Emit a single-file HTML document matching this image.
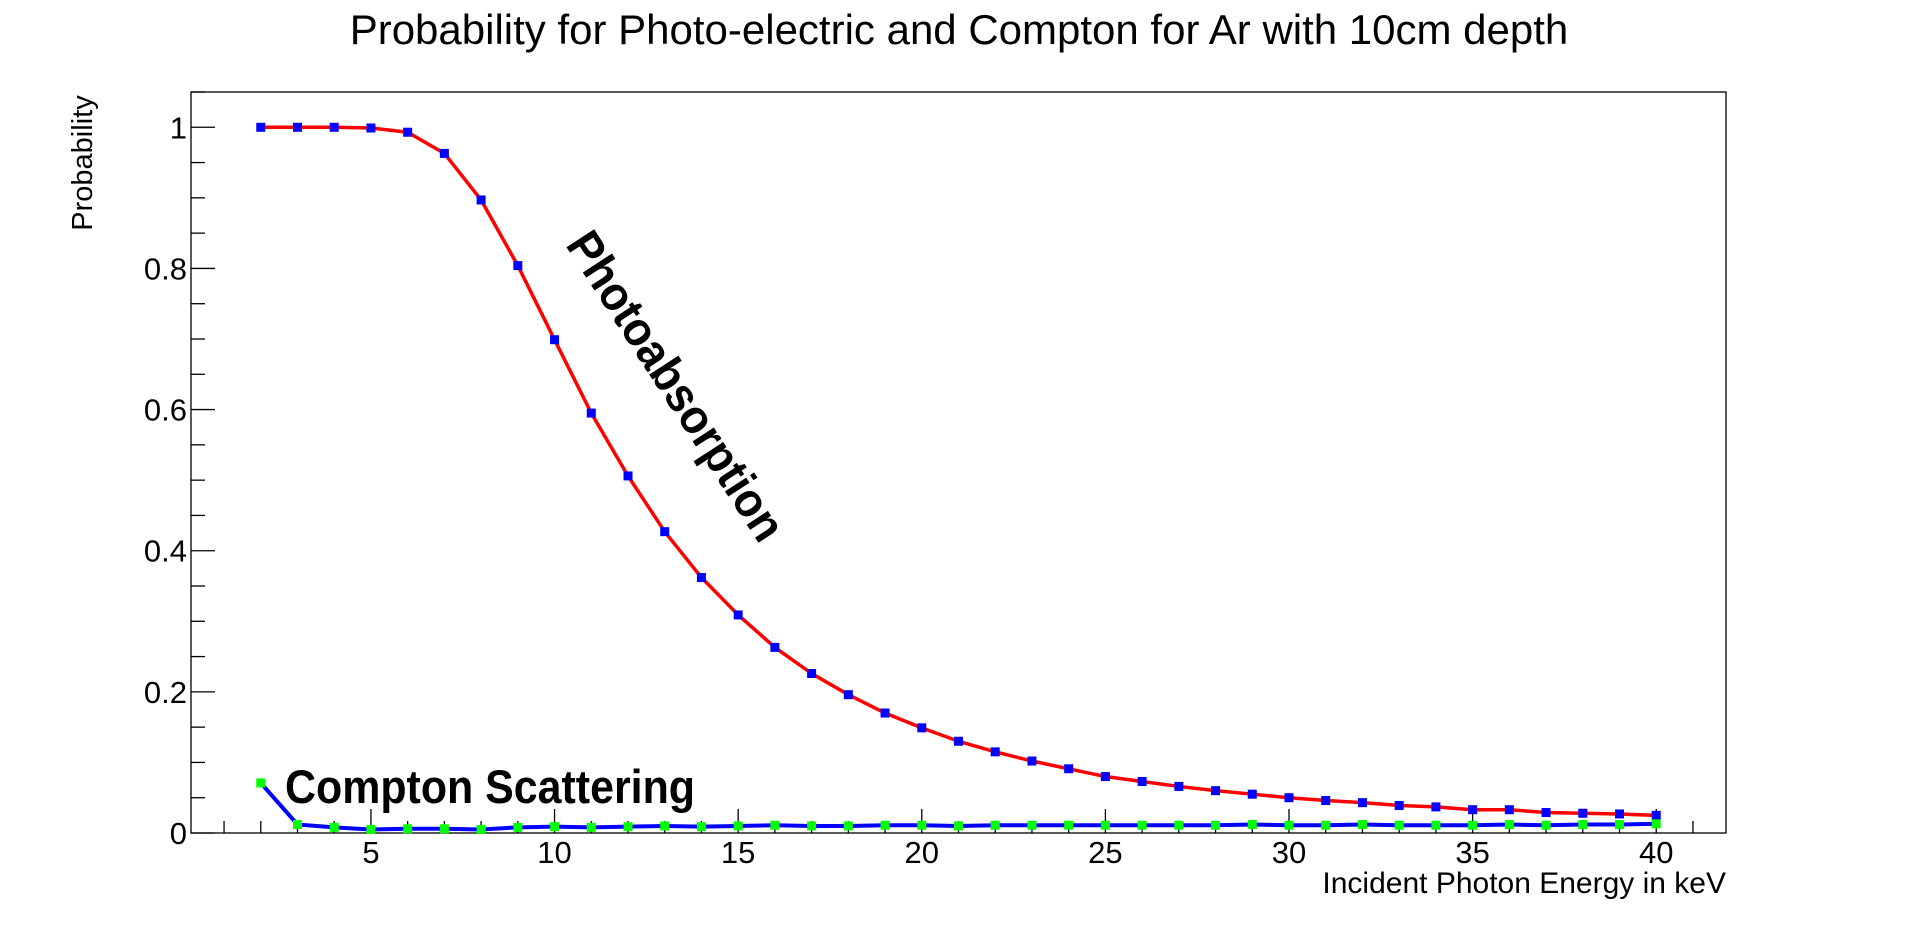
<!DOCTYPE html>
<html><head><meta charset="utf-8"><style>
html,body{margin:0;padding:0;background:#fff;}
svg{display:block;font-family:"Liberation Sans",sans-serif;}
</style></head><body>
<svg id="chart" width="1918" height="926" viewBox="0 0 1918 926">
<text x="959" y="44" font-size="42" text-anchor="middle">Probability for Photo-electric and Compton for Ar with 10cm depth</text>
<rect x="191" y="92" width="1535" height="741" fill="none" stroke="#000" stroke-width="1.3"/>
<g id="axes"></g>
<g id="series"></g>
<text transform="translate(92,163) rotate(-90)" font-size="29" text-anchor="middle">Probability</text>
<text x="1726" y="893" font-size="30" text-anchor="end">Incident Photon Energy in keV</text>
<text transform="translate(673,388) rotate(57)" font-size="48" font-weight="bold" text-anchor="middle" dominant-baseline="middle" textLength="358" lengthAdjust="spacingAndGlyphs">Photoabsorption</text>
<text x="285" y="803" font-size="47" font-weight="bold" textLength="410" lengthAdjust="spacingAndGlyphs">Compton Scattering</text>
</svg>
<script>
const energies=[2,3,4,5,6,7,8,9,10,11,12,13,14,15,16,17,18,19,20,21,22,23,24,25,26,27,28,29,30,31,32,33,34,35,36,37,38,39,40];
const photoValues=[1.0,1.0,1.0,0.999,0.993,0.963,0.897,0.804,0.699,0.595,0.506,0.427,0.362,0.309,0.263,0.226,0.196,0.170,0.149,0.130,0.115,0.102,0.091,0.080,0.073,0.066,0.060,0.055,0.050,0.046,0.043,0.039,0.037,0.033,0.033,0.029,0.028,0.027,0.025];
const comptonValues=[0.071,0.012,0.008,0.005,0.006,0.006,0.005,0.008,0.009,0.008,0.009,0.010,0.009,0.010,0.011,0.010,0.010,0.011,0.011,0.010,0.011,0.011,0.011,0.011,0.011,0.011,0.011,0.012,0.011,0.011,0.012,0.011,0.011,0.011,0.012,0.011,0.012,0.012,0.013];
const xTickLabels=[5,10,15,20,25,30,35,40];
const yTickLabels=[0,0.2,0.4,0.6,0.8,1];
const X0=191,X1=1726,Y0=833,Y1=92,xmin=0.1,xmax=41.9,ymin=0,ymax=1.05;
const sx=v=>X0+(v-xmin)/(xmax-xmin)*(X1-X0);
const sy=v=>Y0-(v-ymin)/(ymax-ymin)*(Y0-Y1);
const NS="http://www.w3.org/2000/svg";
const axes=document.getElementById('axes'),ser=document.getElementById('series');
function mk(tag,attrs,parent){const e=document.createElementNS(NS,tag);for(const k in attrs)e.setAttribute(k,attrs[k]);parent.appendChild(e);return e;}
for(let i=1;i<=41;i++){
  const major=i%5===0;
  const t=mk('line',{x1:sx(i),x2:sx(i),y1:Y0,y2:Y0-(major?24:12),stroke:'#000','stroke-width':1.3},axes);
  
  
}
xTickLabels.forEach(v=>{
  const t=mk('text',{x:sx(v),y:863,'font-size':31,'text-anchor':'middle'},axes);t.textContent=v;
  
  
});
for(let i=0;i<=21;i++){
  const v=i*0.05;const major=i%4===0;
  const t=mk('line',{x1:X0,x2:X0+(major?24:14),y1:sy(v),y2:sy(v),stroke:'#000','stroke-width':1.3},axes);
  
  
}
yTickLabels.forEach(v=>{
  const t=mk('text',{x:187,y:sy(v)+11,'font-size':31,'text-anchor':'end'},axes);t.textContent=v;
  
  
});
function draw(vals,lineCol,markCol,name,w){
  const pts=energies.map((e,i)=>sx(e)+','+sy(vals[i])).join(' ');
  const l=mk('polyline',{points:pts,fill:'none',stroke:lineCol,'stroke-width':w,'stroke-linejoin':'round'},ser);
  
  
  energies.forEach((e,i)=>{
    const r=mk('rect',{x:sx(e)-4.5,y:sy(vals[i])-4.5,width:9,height:9,fill:markCol},ser);
    
    
  });
}
draw(photoValues,'#ff0000','#0000ff','photoabsorption',3.5);
draw(comptonValues,'#0000ff','#00ff00','compton',4);
</script>
</body></html>
